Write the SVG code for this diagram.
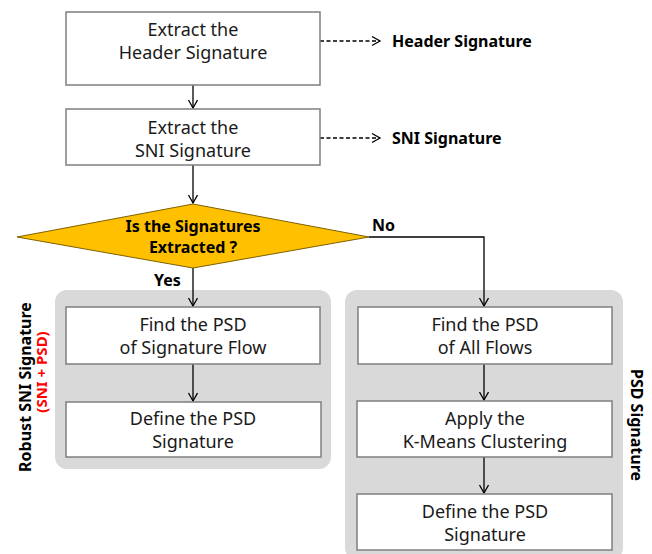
<svg xmlns="http://www.w3.org/2000/svg" width="652" height="554" viewBox="0 0 652 554">
<style>
.box{fill:#fff;stroke:#7f7f7f;stroke-width:1.5}
.panel{fill:#d9d9d9;stroke:none}
.t{font-family:"Noto Sans","Liberation Sans",sans-serif;font-size:18px;fill:#1a1a1a;text-anchor:middle}
.b{font-family:"Noto Sans","Liberation Sans",sans-serif;font-size:16px;font-weight:bold;fill:#000}
.c{fill:none;stroke:#000;stroke-width:1.3}
.d{fill:none;stroke:#000;stroke-width:1.3;stroke-dasharray:4 2.5}
</style>
<defs>
<marker id="ah" markerWidth="12" markerHeight="12" refX="9" refY="5" orient="auto" markerUnits="userSpaceOnUse">
<path d="M1,0.5 L9,5 L1,9.5" fill="none" stroke="#000" stroke-width="1.3"/>
</marker>
</defs>
<g id="panel-left"><rect class="panel" x="55" y="290" width="276" height="179" rx="12"/></g>
<g id="panel-right"><rect class="panel" x="345" y="290" width="278" height="270" rx="12"/></g>
<g id="connectors">
<line class="c" x1="193" y1="85" x2="193" y2="108" marker-end="url(#ah)"/>
<line class="c" x1="193" y1="165" x2="193" y2="203" marker-end="url(#ah)"/>
<line class="c" x1="193" y1="268" x2="193" y2="306" marker-end="url(#ah)"/>
<polyline class="c" points="369,237 484,237 484,306" marker-end="url(#ah)"/>
<line class="c" x1="193" y1="364" x2="193" y2="401" marker-end="url(#ah)"/>
<line class="c" x1="484" y1="364" x2="484" y2="400" marker-end="url(#ah)"/>
<line class="c" x1="484" y1="457" x2="484" y2="493" marker-end="url(#ah)"/>
<line class="d" x1="320" y1="41" x2="380" y2="41" marker-end="url(#ah)"/>
<line class="d" x1="320" y1="138" x2="380" y2="138" marker-end="url(#ah)"/>
</g>
<g id="n1"><rect class="box" x="66" y="12" width="254" height="73"/>
<text class="t" x="193" y="36">Extract the</text><text class="t" x="193" y="59">Header Signature</text></g>
<g id="n2"><rect class="box" x="66" y="109" width="254" height="56"/>
<text class="t" x="193" y="134">Extract the</text><text class="t" x="193" y="157">SNI Signature</text></g>
<g id="l1"><text class="b" x="392" y="47">Header Signature</text></g>
<g id="l2"><text class="b" x="392" y="144">SNI Signature</text></g>
<g id="dec"><polygon points="17,237 193,204 369,237 193,268" fill="#ffc000" stroke="#7f6000" stroke-width="1"/>
<text class="b" x="193" y="232" text-anchor="middle">Is the Signatures</text>
<text class="b" x="193" y="253" text-anchor="middle">Extracted ?</text></g>
<g id="lab-no"><text class="b" x="372" y="231">No</text></g>
<g id="lab-yes"><text class="b" x="154" y="286">Yes</text></g>
<g id="n3"><rect class="box" x="66" y="307" width="254" height="57"/>
<text class="t" x="193" y="331">Find the PSD</text><text class="t" x="193" y="354">of Signature Flow</text></g>
<g id="n4"><rect class="box" x="66" y="402" width="255" height="55"/>
<text class="t" x="193" y="425">Define the PSD</text><text class="t" x="193" y="448">Signature</text></g>
<g id="n5"><rect class="box" x="358" y="307" width="254" height="57"/>
<text class="t" x="485" y="331">Find the PSD</text><text class="t" x="485" y="354">of All Flows</text></g>
<g id="n6"><rect class="box" x="357" y="401" width="255" height="56"/>
<text class="t" x="485" y="425">Apply the</text><text class="t" x="485" y="448">K-Means Clustering</text></g>
<g id="n7"><rect class="box" x="357" y="494" width="255" height="56"/>
<text class="t" x="485" y="518">Define the PSD</text><text class="t" x="485" y="541">Signature</text></g>
<g id="side-left">
<text class="b" transform="translate(31,387) rotate(-90)" text-anchor="middle">Robust SNI Signature</text>
<text class="b" transform="translate(47,372) rotate(-90)" text-anchor="middle" style="fill:#ff0000;font-size:15px">(SNI + PSD)</text>
</g>
<g id="side-right">
<text class="b" transform="translate(631,425) rotate(90)" text-anchor="middle">PSD Signature</text>
</g>
</svg>
